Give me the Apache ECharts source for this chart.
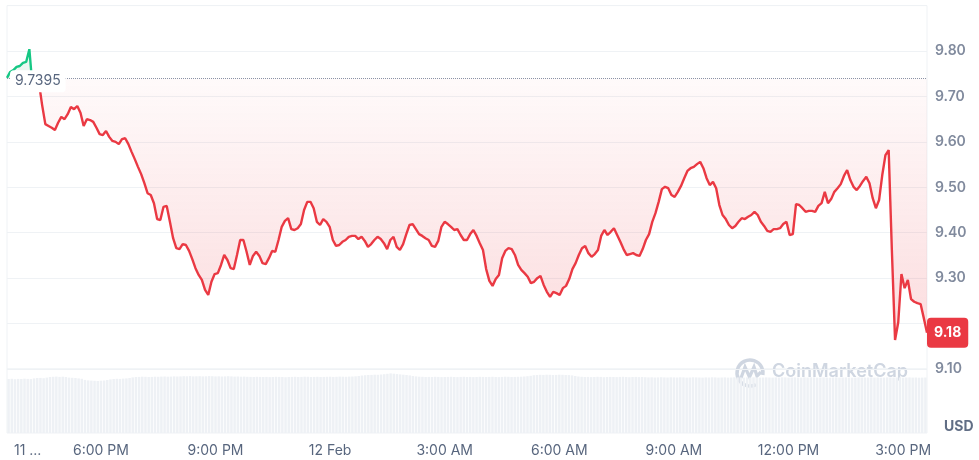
<!DOCTYPE html>
<html><head><meta charset="utf-8">
<script src="https://cdn.jsdelivr.net/npm/echarts@6/dist/echarts.min.js"></script>
<style>html,body{margin:0;padding:0;background:#fff}#c{width:979px;height:460px}</style>
</head><body><div id="c"></div>
<script>
// 5-minute samples, 11 Feb 15:35 -> 12 Feb 15:35
const categories = [];
for (let i = 0; i < 289; i++) {
  const m = 15 * 60 + 35 + i * 5;
  const day = m >= 1440 ? '12 Feb' : '11 Feb';
  const mm = m % 1440;
  categories.push(day + ' ' + String(Math.floor(mm / 60)).padStart(2, '0') + ':' + String(mm % 60).padStart(2, '0'));
}
const price = [
9.741,9.754,9.758,9.765,9.767,9.774,9.776,9.804,9.719,9.727,
9.730,9.681,9.639,9.635,9.631,9.626,9.642,9.655,9.650,9.661,
9.677,9.672,9.679,9.664,9.635,9.650,9.648,9.644,9.631,9.617,
9.615,9.624,9.611,9.602,9.600,9.595,9.606,9.608,9.595,9.578,
9.562,9.545,9.529,9.509,9.487,9.483,9.465,9.430,9.428,9.457,
9.459,9.424,9.388,9.366,9.364,9.375,9.373,9.360,9.342,9.322,
9.307,9.296,9.274,9.263,9.292,9.309,9.311,9.329,9.351,9.340,
9.322,9.320,9.351,9.384,9.384,9.358,9.329,9.349,9.358,9.349,
9.333,9.331,9.344,9.360,9.358,9.384,9.413,9.426,9.432,9.408,
9.406,9.410,9.419,9.450,9.468,9.468,9.454,9.424,9.417,9.430,
9.424,9.413,9.384,9.371,9.373,9.380,9.384,9.391,9.393,9.393,
9.386,9.391,9.382,9.369,9.375,9.384,9.391,9.386,9.377,9.364,
9.384,9.391,9.369,9.362,9.375,9.397,9.417,9.419,9.408,9.397,
9.393,9.388,9.384,9.371,9.369,9.382,9.413,9.424,9.419,9.413,
9.406,9.408,9.395,9.384,9.384,9.397,9.406,9.393,9.377,9.362,
9.320,9.294,9.283,9.298,9.307,9.344,9.360,9.366,9.364,9.351,
9.329,9.318,9.311,9.303,9.289,9.292,9.300,9.305,9.285,9.270,
9.259,9.270,9.267,9.263,9.278,9.283,9.298,9.320,9.333,9.351,
9.366,9.371,9.355,9.347,9.353,9.362,9.393,9.406,9.395,9.402,
9.410,9.395,9.380,9.364,9.351,9.353,9.355,9.351,9.349,9.364,
9.384,9.397,9.424,9.443,9.468,9.496,9.501,9.498,9.483,9.479,
9.490,9.503,9.520,9.536,9.542,9.545,9.551,9.556,9.542,9.520,
9.505,9.512,9.498,9.461,9.439,9.430,9.417,9.410,9.415,9.424,
9.432,9.430,9.435,9.439,9.446,9.439,9.424,9.415,9.404,9.402,
9.408,9.408,9.410,9.419,9.424,9.395,9.397,9.463,9.461,9.454,
9.446,9.448,9.448,9.446,9.459,9.465,9.490,9.465,9.474,9.490,
9.498,9.507,9.525,9.538,9.516,9.501,9.494,9.503,9.514,9.523,
9.509,9.476,9.454,9.472,9.527,9.571,9.582,9.362,9.164,9.203,
9.309,9.278,9.296,9.254,9.248,9.245,9.243,9.212,9.180
];
const volume = [
54.0,54.2,53.8,54.1,54.0,54.3,54.1,53.9,54.6,55.0,
55.1,54.8,55.4,56.0,56.2,56.4,56.1,56.3,56.0,55.4,
55.2,55.0,54.6,54.2,53.1,52.6,52.4,52.2,52.0,52.3,
52.5,53.0,53.6,54.0,54.2,54.1,54.4,54.6,55.0,55.6,
56.0,56.1,56.3,56.2,56.0,56.1,56.3,56.2,56.4,56.5,
56.3,56.4,56.6,56.5,56.6,56.8,56.7,56.9,56.6,56.7,
56.8,56.6,56.7,56.9,56.8,56.6,56.7,56.5,56.6,56.8,
56.6,56.4,56.5,56.3,56.4,56.2,56.1,56.0,56.2,56.1,
56.0,56.1,55.9,56.0,56.2,56.1,56.0,55.8,56.0,56.1,
56.2,56.0,56.1,56.3,56.2,56.0,56.1,56.2,56.0,56.1,
56.2,56.3,56.1,56.2,56.4,56.3,56.2,56.4,56.5,56.7,
57.0,57.5,57.8,58.0,58.1,58.3,58.2,58.5,58.8,59.2,
59.6,59.3,58.9,58.6,58.3,58.0,57.6,57.0,56.6,56.3,
56.2,56.0,56.1,56.0,56.2,56.1,55.9,56.0,56.1,56.2,
56.0,55.9,56.1,56.2,56.0,56.1,55.9,56.0,56.2,56.1,
56.0,56.1,56.2,56.0,55.9,56.1,56.3,56.2,56.0,56.1,
56.2,56.3,56.5,56.8,57.2,57.8,58.0,58.2,58.1,58.3,
58.2,58.0,58.1,58.3,58.2,58.0,57.9,57.6,57.0,56.5,
56.2,56.0,56.1,55.9,56.0,56.2,56.1,55.8,56.0,56.1,
56.0,55.9,56.1,56.2,56.0,55.8,56.0,56.1,55.9,56.0,
55.8,55.6,55.7,55.5,55.6,55.8,55.6,55.5,55.7,55.6,
55.5,55.7,55.6,55.4,55.5,55.7,55.6,55.5,55.4,55.6,
55.5,55.7,55.6,55.4,55.5,55.6,55.4,55.5,55.7,55.6,
55.5,55.4,55.6,55.5,55.7,55.6,55.4,55.5,55.6,55.5,
55.4,55.6,55.5,55.7,55.6,55.4,55.5,55.6,55.5,55.4,
55.6,55.5,55.7,55.6,55.4,55.5,55.6,55.5,55.3,55.5,
55.6,55.4,55.5,55.6,55.5,55.3,55.4,55.6,55.5,55.4,
55.5,55.6,55.4,55.5,55.3,55.4,55.6,55.5,55.4,55.5,
55.6,55.4,55.5,55.6,55.4,55.5,55.3,55.4,55.5
];
const openPrice = 9.7395;
const lastPrice = 9.18;
const xTickIndex = [6, 29, 65, 101, 137, 173, 209, 245, 281];
const xTickLabels = ['11 ...', '6:00 PM', '9:00 PM', '12 Feb', '3:00 AM', '6:00 AM', '9:00 AM', '12:00 PM', '3:00 PM'];

const RED = '#ea3943', GREEN = '#16c784';
const greenPart = price.map((v, i) => (i <= 7 ? v : '-'));

const chart = echarts.init(document.getElementById('c'));
chart.setOption({
  animation: false,
  textStyle: { fontFamily: 'Inter, "Noto Sans", sans-serif' },
  grid: [
    { left: 7, right: 52, top: 5.6, height: 363.4, show: true, borderColor: '#eff2f5', borderWidth: 1 },
    { left: 7, right: 52, top: 369, bottom: 27, show: true, borderColor: '#eff2f5', borderWidth: 1 }
  ],
  xAxis: [
    { type: 'category', gridIndex: 0, data: categories, boundaryGap: false,
      axisLine: { show: false }, axisTick: { show: false }, axisLabel: { show: false }, splitLine: { show: false } },
    { type: 'category', gridIndex: 1, data: categories, boundaryGap: true,
      axisLine: { show: false }, axisTick: { show: false }, splitLine: { show: false },
      axisLabel: {
        interval: (i) => xTickIndex.indexOf(i) >= 0,
        formatter: (v, i) => xTickLabels[xTickIndex.indexOf(i)],
        color: '#58667e', fontSize: 14, margin: 11
      } }
  ],
  yAxis: [
    { type: 'value', gridIndex: 0, position: 'right', min: 9.1, max: 9.9, interval: 0.1,
      axisLine: { show: false }, axisTick: { show: false },
      splitLine: { lineStyle: { color: '#eff2f5', width: 1 } },
      axisLabel: {
        formatter: (v) => (v > 9.85 || Math.abs(v - lastPrice) < 0.035 ? '' : v.toFixed(2)),
        color: '#808a9d', fontSize: 14, fontWeight: 600, margin: 8 } },
    { type: 'value', gridIndex: 1, min: 0, max: 64, show: false }
  ],
  visualMap: {
    type: 'piecewise', show: false, seriesIndex: 0, dimension: 1,
    pieces: [{ gte: openPrice, lte: 20, color: GREEN }, { gte: 0, lt: openPrice, color: RED }]
  },
  series: [
    {
      type: 'line', xAxisIndex: 0, yAxisIndex: 0, data: price, symbol: 'none', z: 3,
      lineStyle: { width: 2.4 },
      areaStyle: {
        origin: openPrice,
        color: new echarts.graphic.LinearGradient(0, 0, 0, 1, [
          { offset: 0, color: 'rgba(234,57,67,0.01)' },
          { offset: 1, color: 'rgba(234,57,67,0.25)' }
        ])
      },
      markLine: {
        symbol: 'none', silent: true,
        data: [
          { yAxis: openPrice, lineStyle: { type: 'dotted', color: '#8a93a6', width: 1 },
            label: { show: true, position: 'insideStartBottom', formatter: String(openPrice),
              color: '#58667e', fontSize: 14, backgroundColor: '#fff', padding: [4, 5], borderRadius: 4,
              distance: 0, offset: [3, -8] } },
          { yAxis: lastPrice, lineStyle: { color: 'rgba(0,0,0,0)', width: 0 },
            label: { show: true, position: 'end', formatter: lastPrice.toFixed(2), distance: 0,
              color: '#fff', backgroundColor: RED, fontSize: 14, fontWeight: 700,
              padding: [8, 7], borderRadius: 4 } }
        ]
      }
    },
    {
      type: 'line', xAxisIndex: 0, yAxisIndex: 0, data: greenPart, symbol: 'none', z: 2,
      lineStyle: { width: 0 }, silent: true,
      areaStyle: { origin: openPrice, color: 'rgba(22,199,132,0.12)' }
    },
    {
      type: 'bar', xAxisIndex: 1, yAxisIndex: 1, data: volume, silent: true,
      barCategoryGap: '22%', itemStyle: { color: '#eef1f5' }, z: 1
    }
  ],
  graphic: [
    { type: 'text', left: 944, top: 420, style: { text: 'USD', fill: '#616e85', font: '700 14px Inter' } },
    { type: 'arc', shape: { cx: 750, cy: 373, r: 13, startAngle: Math.PI * 0.35, endAngle: Math.PI * 2.05 },
      style: { stroke: '#cfd6e1', lineWidth: 3.5, fill: null } },
    { type: 'polyline', shape: { points: [[741, 378], [745, 367], [749.5, 377], [754, 367], [757, 376], [761, 372]] },
      style: { stroke: '#cfd6e1', lineWidth: 3.2, fill: null } },
    { type: 'text', left: 772, top: 363, style: { text: 'CoinMarketCap', fill: '#cfd6e1', font: '600 18px Inter' } }
  ]
});
</script></body></html>
